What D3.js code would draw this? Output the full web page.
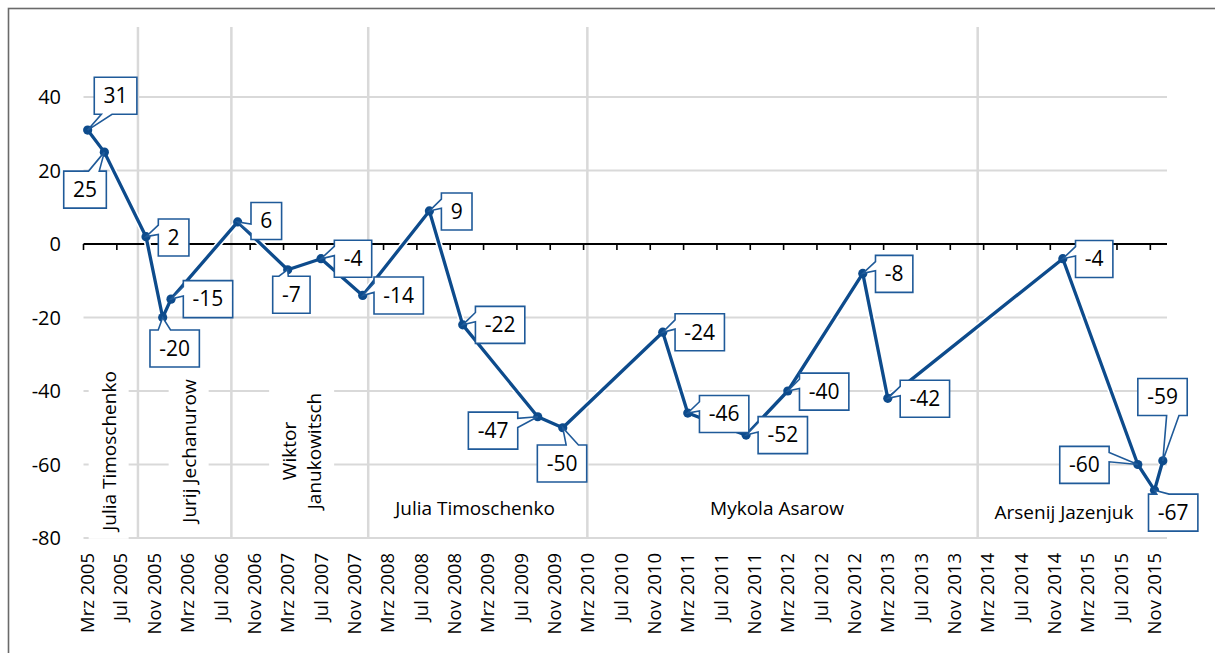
<!DOCTYPE html>
<html><head><meta charset="utf-8">
<script src="https://cdn.jsdelivr.net/npm/d3@7"></script>
<style>
body{margin:0;background:#fff;}
svg{display:block;font-family:"Open Sans",sans-serif;}
</style></head><body>
<svg id="c" width="1215" height="653"></svg>
<script>
// ---------- data ----------
const dates  = ["2005-03","2005-05","2005-10","2005-12","2006-01","2006-09","2007-03","2007-07","2007-12","2008-08","2008-12","2009-09","2009-12","2010-12","2011-03","2011-10","2012-03","2012-12","2013-03","2014-12","2015-09","2015-11","2015-12"];
const values = [31,25,2,-20,-15,6,-7,-4,-14,9,-22,-47,-50,-24,-46,-52,-40,-8,-42,-4,-60,-67,-59];
const tickLabels = ["Mrz 2005","Jul 2005","Nov 2005","Mrz 2006","Jul 2006","Nov 2006","Mrz 2007","Jul 2007","Nov 2007","Mrz 2008","Jul 2008","Nov 2008","Mrz 2009","Jul 2009","Nov 2009","Mrz 2010","Jul 2010","Nov 2010","Mrz 2011","Jul 2011","Nov 2011","Mrz 2012","Jul 2012","Nov 2012","Mrz 2013","Jul 2013","Nov 2013","Mrz 2014","Jul 2014","Nov 2014","Mrz 2015","Jul 2015","Nov 2015"];
const yTicks = [40,20,0,-20,-40,-60,-80];
const termBoundaries = ["2005-09-17","2006-08-24","2008-01-06","2010-03-15","2014-02-09"];
const pmNames = [["Julia Timoschenko"],["Jurij Jechanurow"],["Wiktor","Janukowitsch"],["Julia Timoschenko"],["Mykola Asarow"],["Arsenij Jazenjuk"]];

// ---------- layout (not data) ----------
const calloutLayout = [
  ["l",6.6,-34.3],["r",2,37.5],["l",12.3,0.8],["l",-12.7,31],["l",12.3,0],["l",13.3,-1],
  ["l",-15,25],["l",13.3,0],["l",11.3,0],["l",12,0.5],["l",12.7,0],["r",-20,13.9],
  ["l",-25.4,35.7],["l",12.3,0],["l",11.7,1],["l",12,0],["l",11.7,0.6],["l",12.7,0.5],
  ["l",12.4,0.4],["l",12.7,0.3],["r",-28.7,0.4],["l",-6,22.4],["l",-25,-63.9]
];
const pmLabelLayout = [
  {rot:true, x:109, y:451},
  {rot:true, x:189, y:451},
  {rot:true, x:302, y:451},
  {rot:false, x:475, y:515},
  {rot:false, x:777, y:515},
  {rot:false, x:1064, y:519}
];

const monthIdx = s => { const [yy,mm] = s.split("-").map(Number); return (yy-2005)*12 + (mm-3); };
const dateIdx = s => { const [yy,mm,dd] = s.split("-").map(Number); const dim = new Date(yy,mm,0).getDate(); return monthIdx(yy+"-"+mm) + (dd-1)/dim; };

const x = d3.scaleLinear().domain([0,130]).range([83.5,1167]);
const y = d3.scaleLinear().domain([-80,60]).range([538,23.5]);

const svg = d3.select("#c");
const BLUE = "#0d4b8c", CBLUE = "#1f5a99", GRID = "#d9d9d9";

// border
svg.append("rect").attr("x",8.5).attr("y",8.5).attr("width",1300).attr("height",700)
  .attr("fill","none").attr("stroke","#6a6a6a").attr("stroke-width",1.6);

// horizontal gridlines
svg.append("g").selectAll("line").data(yTicks.filter(v=>v!==0)).join("line")
  .attr("x1",x(0)).attr("x2",x(130)).attr("y1",d=>y(d)).attr("y2",d=>y(d))
  .attr("stroke",GRID).attr("stroke-width",2);

// term boundary lines
svg.append("g").selectAll("line").data(termBoundaries).join("line")
  .attr("x1",d=>x(dateIdx(d))).attr("x2",d=>x(dateIdx(d)))
  .attr("y1",27).attr("y2",y(-80)+1)
  .attr("stroke",GRID).attr("stroke-width",2.5);

// PM labels
pmNames.forEach((lines,i)=>{
  const L = pmLabelLayout[i];
  const g = svg.append("g").attr("transform", L.rot ? `translate(${L.x},${L.y}) rotate(-90)` : `translate(${L.x},${L.y})`);
  const t = g.append("text").attr("font-size",19).attr("fill","#000").attr("text-anchor","middle");
  if (L.rot) {
    const n = lines.length;
    lines.forEach((s,k)=>{
      t.append("tspan").attr("x",0).attr("y",(k-(n-1)/2)*25).attr("dy","0.35em").text(s);
    });
    const bb = t.node().getBBox();
    g.insert("rect","text").attr("x",bb.x-6).attr("y",bb.y-7).attr("width",bb.width+12).attr("height",bb.height+14).attr("fill","#fff");
  } else {
    t.text(lines[0]);
  }
});

// zero axis line with ticks
svg.append("line").attr("x1",x(0)).attr("x2",x(130)).attr("y1",y(0)).attr("y2",y(0))
  .attr("stroke","#000").attr("stroke-width",2);
svg.append("g").selectAll("line").data(tickLabels.map((d,i)=>i*4)).join("line")
  .attr("x1",d=>x(d)).attr("x2",d=>x(d)).attr("y1",y(0)).attr("y2",y(0)+6)
  .attr("stroke","#000").attr("stroke-width",1.6);

// y-axis labels
svg.append("g").selectAll("text").data(yTicks).join("text")
  .attr("x",61).attr("y",d=>y(d)).attr("dy","0.35em").attr("text-anchor","end")
  .attr("font-size",20).attr("fill","#000").text(d=>d);

// x-axis labels
svg.append("g").selectAll("text").data(tickLabels).join("text")
  .attr("transform",(d,i)=>`translate(${x(i*4+0.5)},553) rotate(-90)`)
  .attr("dy","0.35em").attr("text-anchor","end").attr("font-size",18.5).attr("fill","#000").text(d=>d);

// series
const pts = dates.map((d,i)=>({x:x(monthIdx(d)+0.5), y:y(values[i]), v:values[i]}));
const line = d3.line().x(d=>d.x).y(d=>d.y);
svg.append("path").attr("d",line(pts)).attr("fill","none").attr("stroke","#fff").attr("stroke-width",6.5).attr("stroke-linejoin","round");
svg.append("path").attr("d",line(pts)).attr("fill","none").attr("stroke",BLUE).attr("stroke-width",3.3).attr("stroke-linejoin","round");
svg.append("g").selectAll("circle").data(pts).join("circle")
  .attr("cx",d=>d.x).attr("cy",d=>d.y).attr("r",4.6).attr("fill",BLUE);

// callouts (wedgeRectCallout geometry)
const H = 37, PAD = 9.3;
const cg = svg.append("g");
pts.forEach((p,i)=>{
  const [anc,dx,dy] = calloutLayout[i];
  const g = cg.append("g");
  const t = g.append("text").attr("font-size",21).attr("fill","#000").attr("text-anchor","middle").attr("dy","0.35em").text(p.v);
  const w = t.node().getComputedTextLength() + 2*PAD;
  let cx;
  if (anc==="l") cx = p.x+dx+w/2; else if (anc==="r") cx = p.x+dx-w/2; else cx = p.x+dx;
  const cy = p.y+dy;
  const l = cx-w/2, r = cx+w/2, tp = cy-H/2, b = cy+H/2;
  const dxPos = p.x-cx, dyPos = p.y-cy;
  const dq = dxPos*H/w;
  const dz = Math.abs(dyPos)-Math.abs(dq);
  const x1 = l + w*(dxPos>0?7:2)/12, x2 = l + w*(dxPos>0?10:5)/12;
  const y1 = tp + H*(dyPos>0?7:2)/12, y2 = tp + H*(dyPos>0?10:5)/12;
  const tip = `${p.x},${p.y}`;
  let d = `M${l},${tp}`;
  if (dz>0 && dyPos<0) d += ` L${x1},${tp} L${tip} L${x2},${tp}`;
  d += ` L${r},${tp}`;
  if (dz<=0 && dxPos>0) d += ` L${r},${y1} L${tip} L${r},${y2}`;
  d += ` L${r},${b}`;
  if (dz>0 && dyPos>0) d += ` L${x2},${b} L${tip} L${x1},${b}`;
  d += ` L${l},${b}`;
  if (dz<=0 && dxPos<=0) d += ` L${l},${y2} L${tip} L${l},${y1}`;
  d += " Z";
  g.insert("path","text").attr("d",d).attr("fill","#fff").attr("stroke",CBLUE).attr("stroke-width",1.6).attr("stroke-linejoin","miter");
  t.attr("x",cx).attr("y",cy);
});
</script>
</body></html>
